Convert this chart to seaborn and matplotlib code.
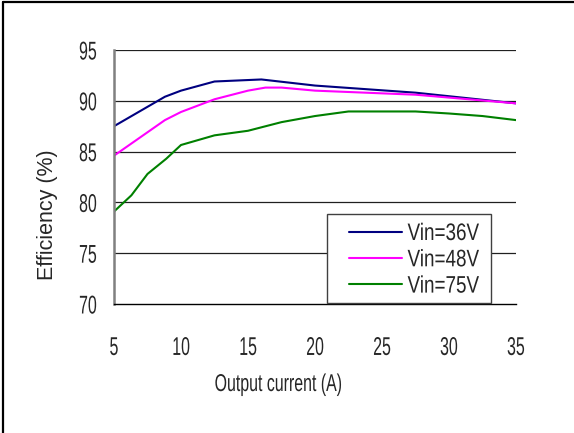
import matplotlib
matplotlib.use("Agg")
import matplotlib.pyplot as plt
import seaborn as sns
import pandas as pd
from matplotlib.patches import Rectangle
from matplotlib.patheffects import AbstractPathEffect
from matplotlib.transforms import Affine2D

# Efficiency curves vs. output current at three input voltages
current_36v = [5, 8.8, 10, 12.5, 16, 20, 27.5, 35]
eff_36v = [87.5, 90.4, 91.0, 91.9, 92.1, 91.5, 90.8, 89.75]

current_48v = [5, 8.8, 10, 12.5, 15, 16.3, 17.5, 20, 27.5, 35]
eff_48v = [84.6, 88.1, 88.9, 90.15, 91.0, 91.3, 91.3, 91.0, 90.6, 89.75]

current_75v = [5, 6.3, 7.5, 8.9, 10, 12.5, 15, 17.5, 20, 22.5, 27.5, 30, 32.5, 35]
eff_75v = [79.1, 80.7, 82.8, 84.3, 85.65, 86.6, 87.05, 87.9, 88.5, 88.95, 88.95, 88.75, 88.5, 88.1]

series_labels = ["Vin=36V", "Vin=48V", "Vin=75V"]
series_colors = ["#000080", "#FF00FF", "#008000"]
x_ticks = [5, 10, 15, 20, 25, 30, 35]
y_ticks = [70, 75, 80, 85, 90, 95]

df = pd.concat([
    pd.DataFrame({"current": current_36v, "eff": eff_36v, "series": series_labels[0]}),
    pd.DataFrame({"current": current_48v, "eff": eff_48v, "series": series_labels[1]}),
    pd.DataFrame({"current": current_75v, "eff": eff_75v, "series": series_labels[2]}),
])


class Condense(AbstractPathEffect):
    """Squeeze glyphs horizontally to mimic a narrow typeface."""

    def __init__(self, sx, anchor="center"):
        super().__init__()
        self.sx = sx
        self.anchor = anchor

    def draw_path(self, renderer, gc, tpath, affine, rgbFace=None):
        ext = tpath.get_extents(affine)
        if self.anchor == "left":
            px = ext.x0
        elif self.anchor == "right":
            px = ext.x1
        else:
            px = 0.5 * (ext.x0 + ext.x1)
        squeeze = Affine2D().translate(-px, 0).scale(self.sx, 1).translate(px, 0)
        renderer.draw_path(gc, tpath, affine + squeeze, rgbFace)


sns.set_style("white")
plt.rcParams["font.family"] = ["Liberation Sans", "DejaVu Sans"]

W, H = 574, 433
fig = plt.figure(figsize=(W / 100, H / 100), dpi=100)
ax = fig.add_axes([114 / W, 1 - 304 / H, (516 - 114) / W, (304 - 50) / H])

sns.lineplot(data=df, x="current", y="eff", hue="series", palette=series_colors,
             hue_order=series_labels, sort=False, estimator=None, lw=1.5, ax=ax)

ax.set_xlim(5, 35)
ax.set_ylim(70, 95)
ax.set_xticks(x_ticks)
ax.set_yticks(y_ticks)
ax.set_xticklabels([str(t) for t in x_ticks], fontsize=18.5,
                   path_effects=[Condense(0.62)])
ax.set_yticklabels([str(t) for t in y_ticks], fontsize=18.5,
                   path_effects=[Condense(0.62, "right")])
ax.tick_params(axis="x", direction="in", length=6, width=1, color="#808080", pad=23)
ax.tick_params(axis="y", length=0, pad=12)
ax.set_xlabel("")
ax.set_ylabel("")

for y in y_ticks[1:]:
    ax.axhline(y, color="#202020", lw=0.9, zorder=0)

for side in ["top", "right"]:
    ax.spines[side].set_visible(False)
ax.spines["left"].set_color("#808080")
ax.spines["left"].set_linewidth(1.8)
ax.spines["bottom"].set_color("black")
ax.spines["bottom"].set_linewidth(1.0)

# Legend box
box = Rectangle((327 / W, 1 - 303 / H), 164 / W, 89 / H, transform=fig.transFigure,
                facecolor="white", edgecolor="#404040", lw=1.0, zorder=4, clip_on=False)
ax.add_patch(box)

leg = ax.legend(loc="upper left", bbox_to_anchor=(349 / W, 1 - 223 / H),
                bbox_transform=fig.transFigure, fontsize=17.2, frameon=False,
                handlelength=2.2, handletextpad=0.25, labelspacing=0.18,
                borderpad=0, borderaxespad=0)
leg.set_zorder(5)
for t in leg.get_texts():
    t.set_path_effects([Condense(0.79, "left")])

fig.text(48 / W, 1 - 215 / H, "Efficiency (%)", rotation=90, ha="center", va="center", fontsize=15.5)
fig.text(278 / W, 1 - 385 / H, "Output current (A)", ha="center", va="center", fontsize=17.5,
         path_effects=[Condense(0.655)])

# Outer frame: top and left edges
fig.add_artist(plt.Line2D([3 / W, 1], [1 - 1.5 / H, 1 - 1.5 / H], color="black", lw=1.6, transform=fig.transFigure))
fig.add_artist(plt.Line2D([3 / W, 3 / W], [0, 1 - 1.5 / H], color="black", lw=1.6, transform=fig.transFigure))

fig.savefig("out.png", dpi=100)
